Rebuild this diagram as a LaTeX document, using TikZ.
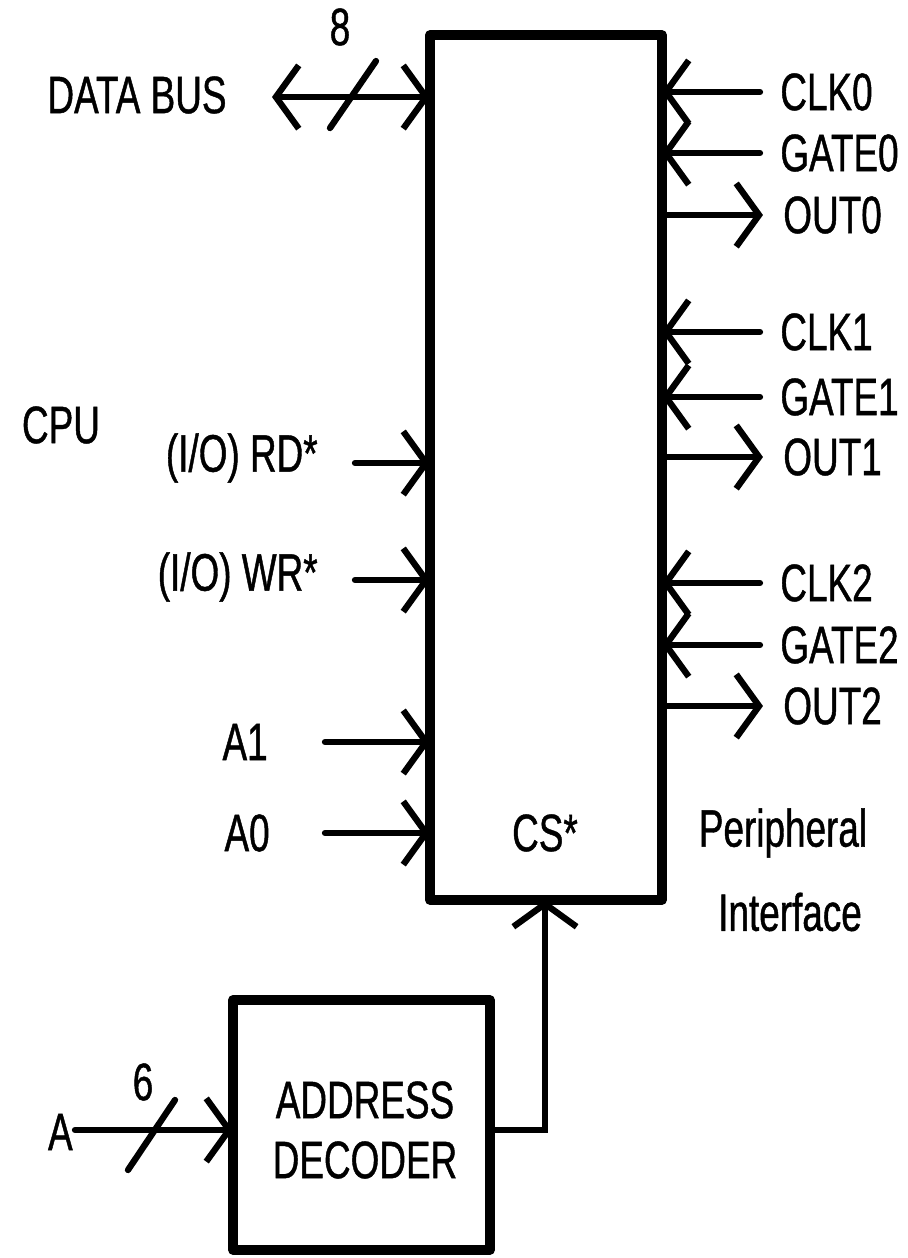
\documentclass[tikz,border=0pt]{standalone}
\usepackage{fontspec}
\setmainfont[FakeStretch=0.7,FakeBold=0.8]{Liberation Sans}
\usepackage{tkz-euclide}
\usetikzlibrary{arrows.meta}
\tikzset{
  sig/.style={font=\fontsize{30}{36}\selectfont,inner sep=0pt},
  barb/.style={-{Straight Barb[length=13pt,width=36pt]}},
  bibarb/.style={{Straight Barb[length=13pt,width=36pt]}-{Straight Barb[length=13pt,width=36pt]}},
  boxline/.style={line width=5.5pt,line cap=rect},
}

\begin{document}
\begin{tikzpicture}[scale=.2]
\useasboundingbox (0,0) rectangle (90.7,125.8);
\tkzSetUpLine[line width=3.6pt,color=black]

% blocks
\tkzDefPoints{43/122.3/P1,66.2/122.3/P2,66.2/35.8/P3,43/35.8/P4}
\tkzDefPoints{23.3/25.8/Q1,49/25.8/Q2,49/0.8/Q3,23.3/0.8/Q4}

% data bus
\tkzDefPoints{27.2/116.1/DB,43/116.1/DBin,33/113/S1,37.6/119.7/S2}

% counter lines
\tkzDefPoints{76/116.6/Ck0,66.2/116.6/Ck0in,76/110.5/Gt0,66.2/110.5/Gt0in,66.2/104.3/Ot0in,76.3/104.3/Ot0}
\tkzDefPoints{76/92.6/Ck1,66.2/92.6/Ck1in,76/86.1/Gt1,66.2/86.1/Gt1in,66.2/80.1/Ot1in,76.3/80.1/Ot1}
\tkzDefPoints{76/67.5/Ck2,66.2/67.5/Ck2in,76/61.3/Gt2,66.2/61.3/Gt2in,66.2/55.2/Ot2in,76.3/55.2/Ot2}

% cpu lines
\tkzDefPoints{35.5/79.5/Rd,43/79.5/Rdin,35.5/67.8/Wr,43/67.8/Wrin}
\tkzDefPoints{32.5/51.6/Ad1,43/51.6/Ad1in,32.5/42.5/Ad0,43/42.5/Ad0in}

% decoder
\tkzDefPoints{49/12.8/Dout,54.5/12.8/Cn,54.5/35.8/Cs}
\tkzDefPoints{7.5/12.8/Ain,23.3/12.8/Aend,12.8/8.8/T1,17.5/15.8/T2}

\tkzDrawPolygon[boxline](P1,P2,P3,P4)
\tkzDrawPolygon[boxline](Q1,Q2,Q3,Q4)

\tkzDrawSegments[bibarb](DB,DBin)
\tkzDrawSegments[line cap=round](S1,S2 T1,T2)
\tkzDrawSegments[barb](Ck0,Ck0in Gt0,Gt0in Ot0in,Ot0 Ck1,Ck1in Gt1,Gt1in Ot1in,Ot1 Ck2,Ck2in Gt2,Gt2in Ot2in,Ot2)
\tkzDrawSegments[barb](Rd,Rdin Wr,Wrin Ad1,Ad1in Ad0,Ad0in Ain,Aend)
\draw[line width=3.6pt,barb] (Dout) -- (Cn) -- (Cs);

\node[sig] (bus8) at (34,123.1) {8};
\node[sig] (databus) at (13.7,116.3) {DATA BUS};

\node[sig,anchor=west] (clk0) at (78,116.6) {CLK0};
\node[sig,anchor=west] (gate0) at (78,110.5) {GATE0};
\node[sig,anchor=west] (out0) at (78.3,104.3) {OUT0};
\node[sig,anchor=west] (clk1) at (78,92.6) {CLK1};
\node[sig,anchor=west] (gate1) at (78,86.1) {GATE1};
\node[sig,anchor=west] (out1) at (78.3,80.1) {OUT1};
\node[sig,anchor=west] (clk2) at (78,67.5) {CLK2};
\node[sig,anchor=west] (gate2) at (78,61.3) {GATE2};
\node[sig,anchor=west] (out2) at (78.3,55.2) {OUT2};

\node[sig] (cpu) at (6.1,83.3) {CPU};
\node[sig,anchor=east] (rd) at (31.8,80) {(I/O) RD*};
\node[sig,anchor=east] (wr) at (31.8,68.1) {(I/O) WR*};
\node[sig,anchor=east] (a1) at (26.8,51.6) {A1};
\node[sig,anchor=east] (a0) at (27,42.5) {A0};

\node[sig] (cs) at (54.5,42.5) {CS*};
\node[sig] (periph) at (78.3,42.5) {Peripheral};
\node[sig] (iface) at (79,34.6) {Interface};

\node[sig] (addr) at (36.5,15.8) {ADDRESS};
\node[sig] (dec) at (36.5,9.8) {DECODER};
\node[sig,anchor=east] (ain) at (7.3,12.6) {A};
\node[sig] (bus6) at (14.3,17.6) {6};

\end{tikzpicture}
\end{document}
